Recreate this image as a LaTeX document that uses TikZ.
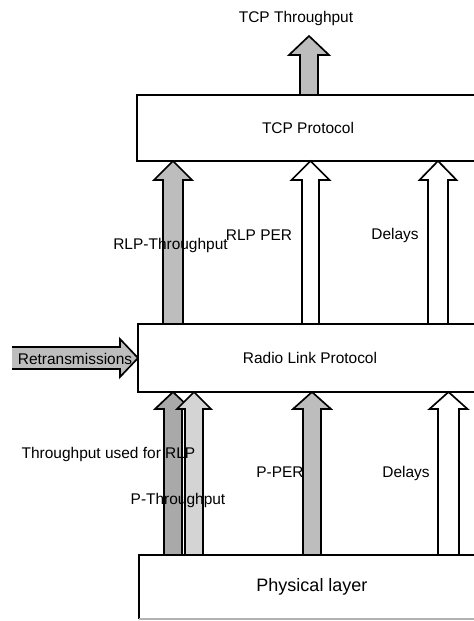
\documentclass[tikz,border=0pt]{standalone}
\usepackage{fontspec}
\setmainfont{Liberation Sans}
\usetikzlibrary{backgrounds}
\definecolor{shadeMid}{HTML}{BDBDBD}
\definecolor{shadeDark}{HTML}{A9A9A9}
\definecolor{shadeLight}{HTML}{D4D4D4}
% upward block arrow: tip, base, shaft half-width, head half-width, head length, fill
\newcommand\blockarrow[6]{%
  \filldraw[blockline, fill=#6] (#1) -- ([shift={(#4,#5)}]#1) -- ([shift={(#3,#5)}]#1)
    -- ([shift={(#3,0)}]#2) -- ([shift={(-#3,0)}]#2) -- ([shift={(-#3,#5)}]#1)
    -- ([shift={(-#4,#5)}]#1) -- cycle;}
\begin{document}
\begin{tikzpicture}[x=0.75pt,y=-0.75pt,
  layer/.style={draw, line width=1.3pt, inner sep=0pt, outer sep=0pt,
    font=\fontsize{11.6}{14}\selectfont},
  lbl/.style={inner sep=0pt, anchor=base, font=\fontsize{11.6}{14}\selectfont},
  blockline/.style={line width=1.25pt, line join=miter}]
\useasboundingbox (0,0) rectangle (474,621);
\clip (0,0) rectangle (474,621);

% protocol layers
\node[layer, anchor=north west, minimum width=256.5pt, minimum height=49.5pt] (tcp) at (137,95) {TCP Protocol};
\node[layer, anchor=north west, minimum width=258pt, minimum height=51pt] (rlp) at (138,324) {Radio Link Protocol};
\node[layer, draw=none, anchor=north west, minimum width=259.5pt, minimum height=48pt,
  font=\fontsize{13.5}{16}\selectfont] (phy) at (139,555) {Physical layer};
\draw[line width=1.3pt] (phy.south west) -- (phy.north west) -- (phy.north east);
\draw[line width=1pt, black!30] (phy.south west) -- (phy.south east);

% end points of the block arrows
\coordinate (tcpTip) at (309,36);
\coordinate (tcpBase) at (309,0 |- tcp.north);
\coordinate (rtTip) at (173,0 |- tcp.south);
\coordinate (rtBase) at (173,0 |- rlp.north);
\coordinate (rpTip) at (310.5,0 |- tcp.south);
\coordinate (rpBase) at (310.5,0 |- rlp.north);
\coordinate (udTip) at (438,0 |- tcp.south);
\coordinate (udBase) at (438,0 |- rlp.north);
\coordinate (ptTip) at (173,0 |- rlp.south);
\coordinate (ptBase) at (173,0 |- phy.north);
\coordinate (puTip) at (194,0 |- rlp.south);
\coordinate (puBase) at (194,0 |- phy.north);
\coordinate (ppTip) at (312,0 |- rlp.south);
\coordinate (ppBase) at (312,0 |- phy.north);
\coordinate (ldTip) at (448.5,0 |- rlp.south);
\coordinate (ldBase) at (448.5,0 |- phy.north);

\begin{scope}[on background layer]
  \fill[white] (0,0) rectangle (474,621);
  \blockarrow{tcpTip}{tcpBase}{9}{20}{19}{shadeMid}
  \blockarrow{rtTip}{rtBase}{10}{19}{19}{shadeMid}
  \blockarrow{rpTip}{rpBase}{8.5}{19}{19}{white}
  \blockarrow{udTip}{udBase}{10}{18.5}{19}{white}
  \blockarrow{ptTip}{ptBase}{9}{18}{17}{shadeDark}
  \blockarrow{puTip}{puBase}{9}{17}{17}{shadeLight}
  \blockarrow{ppTip}{ppBase}{9}{19}{17}{shadeMid}
  \blockarrow{ldTip}{ldBase}{10.5}{19}{17}{white}
  % retransmissions entering the radio link layer
  \fill[shadeMid] ([shift={(-126,-11)}]rlp.west) -- ([shift={(-18,-11)}]rlp.west)
    -- ([shift={(-18,-19)}]rlp.west) -- (rlp.west) -- ([shift={(-18,19)}]rlp.west)
    -- ([shift={(-18,11)}]rlp.west) -- ([shift={(-126,11)}]rlp.west) -- cycle;
  \draw[blockline] ([shift={(-126,-11)}]rlp.west) -- ([shift={(-18,-11)}]rlp.west)
    -- ([shift={(-18,-19)}]rlp.west) -- (rlp.west) -- ([shift={(-18,19)}]rlp.west)
    -- ([shift={(-18,11)}]rlp.west) -- ([shift={(-126,11)}]rlp.west);
\end{scope}

% labels
\node[lbl] (lTcpTp) at (296,22) {TCP Throughput};
\node[lbl] (lRlpTp) at (170.5,249) {RLP-Throughput};
\node[lbl] (lRlpPer) at (259,240) {RLP PER};
\node[lbl] (lDelU) at (395,239) {Delays};
\node[lbl] (lRetx) at (75,364) {Retransmissions};
\node[lbl] (lUsed) at (108.5,458) {Throughput used for RLP};
\node[lbl] (lPTp) at (178,504) {P-Throughput};
\node[lbl] (lPPer) at (280,477) {P-PER};
\node[lbl] (lDelL) at (406,477) {Delays};
\end{tikzpicture}
\end{document}
